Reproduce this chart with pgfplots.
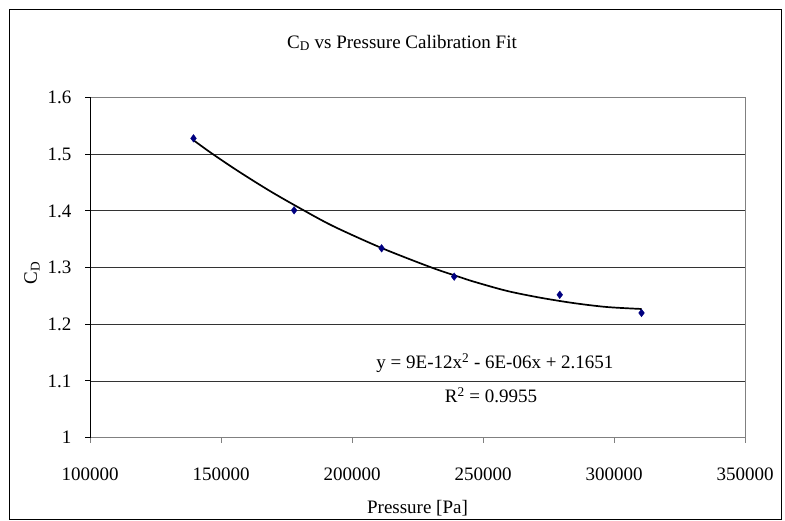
\documentclass[border=0pt]{standalone}
\usepackage{pgfplots}
\pgfplotsset{compat=1.18}
\usepackage{fontspec}
\setmainfont{Liberation Serif}
\definecolor{navy}{RGB}{0,0,128}
\definecolor{axgray}{RGB}{128,128,128}
\begin{document}
\begin{tikzpicture}[x=1pt,y=1pt]
\useasboundingbox (0,0) rectangle (785,521);
\draw[black, line width=1pt] (9,1) rectangle (781,511);
\node[font=\fontsize{19}{22}\selectfont] at (402,478) {C\textsubscript{D} vs Pressure Calibration Fit};
\node[font=\fontsize{19}{22}\selectfont, rotate=90] at (32,248) {C\textsubscript{D}};
\node[font=\fontsize{19}{22}\selectfont] at (417.5,13) {Pressure [Pa]};
\begin{axis}[
  at={(90pt,83.3pt)}, anchor=south west,
  scale only axis, width=655pt, height=340.2pt,
  xmin=100000, xmax=350000, ymin=1, ymax=1.6,
  xtick={100000,150000,200000,250000,300000,350000},
  ytick={1,1.1,1.2,1.3,1.4,1.5,1.6},
  scaled x ticks=false,
  xticklabel style={/pgf/number format/.cd, fixed, 1000 sep={}},
  yticklabel style={/pgf/number format/.cd, fixed, precision=1},
  /pgf/number format/assume math mode=true,
  xtick style={axgray, line width=1pt},
  ytick style={black, line width=1pt},
  tick align=outside, tick pos=left, major tick length=5pt,
  ymajorgrids, grid style={black!80, line width=0.9pt},
  axis line style={axgray, line width=1pt},
  tick label style={font=\fontsize{19}{22}\selectfont},
  xticklabel shift=22pt,
  yticklabel shift=10pt,
  clip=false,
]
\draw[black, line width=1pt] (rel axis cs:0,0) -- (rel axis cs:0,1);
\addplot[black, line width=1.7pt, smooth, tension=0.5] coordinates {
(139700,1.524) (146450,1.5015) (156600,1.470) (168700,1.435) (180800,1.403)
(192860,1.373) (211330,1.3345) (230420,1.300) (241000,1.2835) (246300,1.2755)
(259030,1.259) (271760,1.247) (284470,1.2375) (297200,1.2305) (310570,1.227)
};
\addplot[only marks, mark=diamond*, mark size=3.8pt, color=navy] coordinates {
(139500,1.528) (177900,1.401) (211300,1.334) (239000,1.284) (279300,1.252) (310500,1.220)
};
\node[font=\fontsize{19}{22}\selectfont] at (axis cs:254580,1.1318) {y = 9E-12x\textsuperscript{2} - 6E-06x + 2.1651};
\node[font=\fontsize{19}{22}\selectfont] at (axis cs:253050,1.0753) {R\textsuperscript{2} = 0.9955};
\end{axis}
\end{tikzpicture}
\end{document}
